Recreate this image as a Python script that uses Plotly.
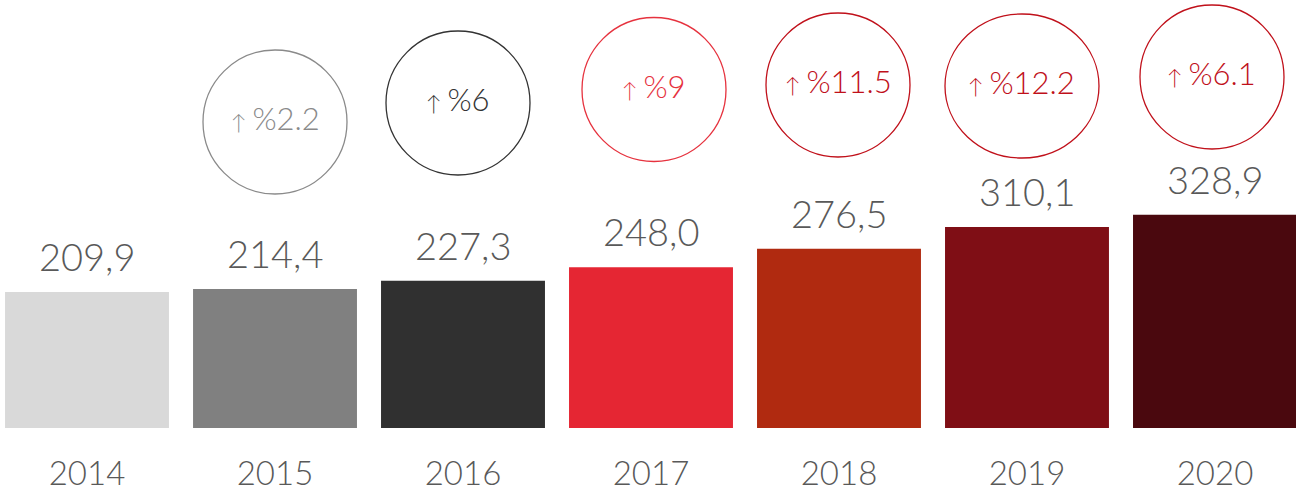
import plotly.graph_objects as go

# ---- data ----
years = ["2014", "2015", "2016", "2017", "2018", "2019", "2020"]
values = [209.9, 214.4, 227.3, 248.0, 276.5, 310.1, 328.9]
growth = [None, "2.2", "6", "9", "11.5", "12.2", "6.1"]

# ---- styles ----
bar_colors = ["#d9d9d9", "#808080", "#303030", "#e52633", "#b02a10", "#7f0e15", "#4a080e"]
ring_colors = [None, "#8a8a8a", "#333333", "#e6323e", "#c0101a", "#c0101a", "#c0101a"]
# circle layout (pixel centres from top, x pixel offsets from bar centre, radii)
ring_cy = [None, 122, 103, 89.5, 85, 86, 77]
ring_dx = [0, 0, -5, 3, -1, -5, -3]
ring_rx = [0, 72, 72, 72, 72, 77, 72]
ring_ry = [0, 72, 72, 72, 72, 72, 72]

FONT = "Lato"
TXT = "#595959"
W, H = 1296, 498
B = 70
PLOT_H = H - B
px_per_unit = 0.648

fig = go.Figure()
fig.add_trace(go.Bar(
    x=years, y=values, marker=dict(color=bar_colors, line=dict(width=0)),
    width=0.872, hoverinfo="skip",
))

annotations = []
shapes = []
for i, (yr, v) in enumerate(zip(years, values)):
    annotations.append(dict(
        x=i, y=v, xref="x", yref="y", yanchor="bottom", yshift=11,
        text=f"{v:.1f}".replace(".", ","), showarrow=False,
        font=dict(family=FONT, size=38, color=TXT, weight=300),
    ))
    if growth[i] is None:
        continue
    cy = 1 - ring_cy[i] / PLOT_H
    shapes.append(dict(
        type="circle", xref="x", yref="paper", xsizemode="pixel", ysizemode="pixel",
        xanchor=i, yanchor=cy,
        x0=ring_dx[i] - ring_rx[i], x1=ring_dx[i] + ring_rx[i],
        y0=-ring_ry[i], y1=ring_ry[i],
        line=dict(color=ring_colors[i], width=1.3), fillcolor="rgba(0,0,0,0)",
    ))
    annotations.append(dict(
        x=i, y=cy, xref="x", yref="paper", xshift=ring_dx[i], yshift=4,
        yanchor="middle", xanchor="center", showarrow=False,
        text=f"<span style='font-size:21px'>↑ </span>%{growth[i]}",
        font=dict(family=FONT, size=31, color=ring_colors[i], weight=300),
    ))

ymax = PLOT_H / px_per_unit
fig.update_layout(
    width=W, height=H, margin=dict(l=0, r=0, t=0, b=B),
    paper_bgcolor="white", plot_bgcolor="white", showlegend=False,
    bargap=0.128,
    xaxis=dict(type="category", range=[-0.4628, 6.4309], showgrid=False, zeroline=False,
               showline=False, ticks="", ticklabelstandoff=23,
               tickfont=dict(family=FONT, size=33, color=TXT, weight=300)),
    yaxis=dict(range=[0, ymax], visible=False, showgrid=False, zeroline=False),
    annotations=annotations, shapes=shapes,
)
fig.write_html("out.html", config={"displayModeBar": False},
               post_script="document.body.style.margin='0';")
